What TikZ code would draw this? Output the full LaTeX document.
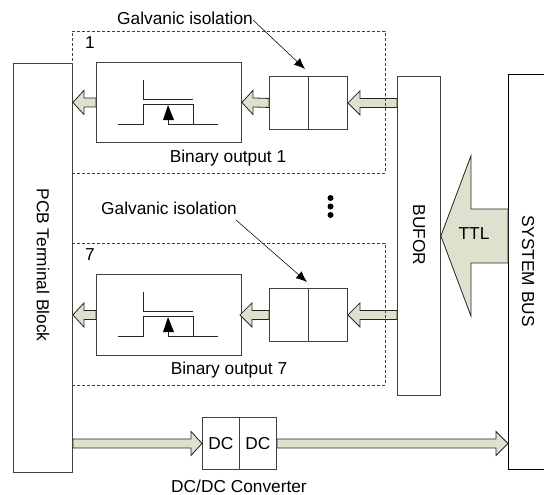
\documentclass[tikz,border=0pt]{standalone}
\usepackage{fontspec}
\setmainfont{Liberation Sans}
\usetikzlibrary{arrows.meta,calc}
\definecolor{fatfill}{RGB}{221,225,205}
\tikzset{x=1pt,y=-1pt,
 boxed/.style={draw=black!75,line width=0.9pt,fill=white,inner sep=0pt,anchor=north west},
 dashbox/.style={draw=black!75,line width=0.65pt,dash pattern=on 3pt off 2pt,inner sep=0pt,anchor=north west},
 lab/.style={font=\fontsize{17.3}{20}\selectfont,inner sep=0pt},
 wire/.style={line width=0.9pt,black!85},
 fatline/.style={draw=black!85,line width=0.8pt,fill=fatfill,line join=miter},
 lead/.style={line width=0.55pt,black,-{Latex[length=11pt,width=9pt]}}}
% tail, tip, head length, head half height, band half height
\newcommand{\fatarrow}[5]{%
 \draw[fatline] let \p1=(#1), \p2=(#2), \n1={ifthenelse(\x2>\x1,1,-1)} in
  (\x2,\y2) -- (\x2-\n1*#3pt,\y2+#4pt) -- (\x2-\n1*#3pt,\y2+#5pt) -- (\x1,\y1+#5pt)
  -- (\x1,\y1-#5pt) -- (\x2-\n1*#3pt,\y2-#5pt) -- (\x2-\n1*#3pt,\y2-#4pt) -- cycle;}
\newcommand{\mosfet}[1]{% downward offset of the drawing
 \begin{scope}[yshift=-#1pt]
 \draw[wire] (143,80) -- (143,99) -- (193,99);
 \draw[wire] (118,124) -- (143,124) -- (143,104) -- (193,104) -- (193,124);
 \draw[wire] (168,124) -- (218,124);
 \draw[wire] (168,124) -- (168,118);
 \fill[black] (168,105) -- (174,120) -- (163,120) -- cycle;
 \end{scope}}
\begin{document}
\begin{tikzpicture}
\useasboundingbox (0,0) rectangle (544,495);
\fill[white] (0,0) rectangle (544,495);
% large blocks
\node[boxed,minimum width=59pt,minimum height=409pt] (pcb) at (13,63) {};
\node[boxed,minimum width=43pt,minimum height=319pt] (bufor) at (397,76) {};
\node[boxed,draw=black,minimum width=44pt,minimum height=395pt] (bus) at (508,74) {};
\node[lab,rotate=-90] (pcblabel) at (43,265) {PCB Terminal Block};
\node[lab,rotate=-90] (buforlabel) at (419,235) {BUFOR};
\node[lab,rotate=-90] (buslabel) at (528,271) {SYSTEM BUS};
% channel 1
\node[boxed,minimum width=145pt,minimum height=80pt] (out1) at (96,62) {};
\node[boxed,minimum width=39pt,minimum height=53pt] (isoa1) at (269,76) {};
\node[boxed,minimum width=39pt,minimum height=53pt] (isob1) at (308,76) {};
\mosfet{0}
\fatarrow{out1.west}{pcb.east |- out1.west}{11}{12}{4.5}
\fatarrow{isoa1.west}{out1.east}{11}{12}{4.5}
\fatarrow{bufor.west |- isob1.east}{isob1.east}{12}{12}{4.5}
\node[lab] (bin1) at (228,158) {Binary output 1};
\node[lab] (gi1) at (185,18) {Galvanic isolation};
\coordinate (s1) at (253,20);
\coordinate (t1) at (305,69);
\draw[lead] (s1) -- (t1);
% channel 7
\node[boxed,minimum width=145pt,minimum height=81pt] (out7) at (96,274) {};
\node[boxed,minimum width=39pt,minimum height=53pt] (isoa7) at (269,288) {};
\node[boxed,minimum width=39pt,minimum height=53pt] (isob7) at (308,288) {};
\mosfet{212}
\fatarrow{out7.west}{pcb.east |- out7.west}{11}{12}{4.5}
\fatarrow{isoa7.west}{$(out7.east)+(-2,0)$}{12}{12}{4.5}
\fatarrow{bufor.west |- isob7.east}{isob7.east}{12}{12}{4.5}
\node[lab] (bin7) at (229,370) {Binary output 7};
\node[lab] (gi7) at (169,208) {Galvanic isolation};
\coordinate (s7) at (236,220);
\coordinate (t7) at (307,282);
\draw[lead] (s7) -- (t7);
% channel frames
\node[dashbox,minimum width=313pt,minimum height=142pt] (ch1) at (72,31) {};
\node[dashbox,minimum width=313pt,minimum height=142pt] (ch7) at (72,243) {};
\node[lab] (n1) at (90,43) {1};
\node[lab] (n7) at (90,255) {7};
% dots
\fill (330.5,198) circle (3pt) (330.5,206.5) circle (3pt) (330.5,215) circle (3pt);
% TTL
\fatarrow{bus.west |- bufor.east}{bufor.east}{30}{80}{27}
\node[lab] (ttl) at (474,234) {TTL};
% DC/DC
\node[boxed,minimum width=37pt,minimum height=52pt] (dca) at (202,417) {};
\node[boxed,minimum width=37pt,minimum height=52pt] (dcb) at (239,417) {};
\node[lab] (dcal) at (dca.center) {DC};
\node[lab] (dcbl) at (dcb.center) {DC};
\fatarrow{pcb.east |- dca.west}{dca.west}{11}{12}{4.5}
\fatarrow{dcb.east}{bus.west |- dcb.east}{12}{12}{4.5}
\node[lab] (conv) at (239,486.5) {DC/DC Converter};
\end{tikzpicture}
\end{document}
